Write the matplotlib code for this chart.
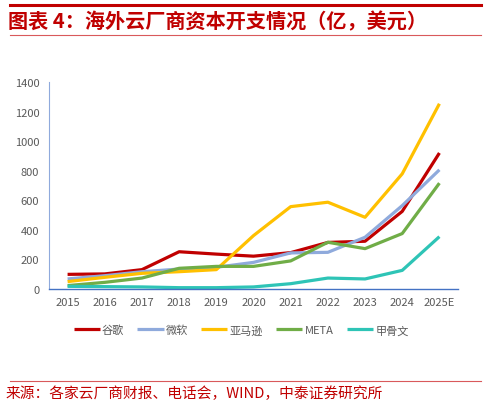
import matplotlib.pyplot as plt
from matplotlib.lines import Line2D

plt.rcParams['font.family'] = ['Noto Sans CJK SC', 'DejaVu Sans']

years = ['2015', '2016', '2017', '2018', '2019', '2020', '2021', '2022', '2023', '2024', '2025E']
google = [99, 102, 131, 252, 236, 222, 246, 315, 323, 525, 920]
microsoft = [68, 90, 117, 135, 147, 180, 244, 248, 350, 564, 806]
amazon = [50, 79, 106, 117, 131, 361, 557, 587, 485, 779, 1253]
meta = [23, 45, 74, 140, 153, 153, 190, 316, 273, 375, 716]
oracle = [18, 16, 14, 9, 9, 14, 36, 74, 68, 126, 354]

series = [
    ('谷歌', google, '#C00000'),
    ('微软', microsoft, '#8FAADC'),
    ('亚马逊', amazon, '#FFC000'),
    ('META', meta, '#70AD47'),
    ('甲骨文', oracle, '#2EC4B6'),
]

fig = plt.figure(figsize=(4.88, 4.06), dpi=100)
red = '#C00000'

# header and footer rules
fig.add_artist(Line2D([0.02, 0.985], [1 - 6 / 406] * 2, color=red, lw=2.2))
fig.add_artist(Line2D([0.02, 0.985], [1 - 36 / 406] * 2, color='#D9595B', lw=0.8))
fig.add_artist(Line2D([0.02, 0.985], [1 - 382 / 406] * 2, color='#D9595B', lw=0.8))

fig.text(0.016, 1 - 22 / 406, '图表 4：海外云厂商资本开支情况（亿，美元）', color=red,
         fontsize=14.5, fontweight='bold', va='center', ha='left')
fig.text(0.012, 1 - 394 / 406, '来源：各家云厂商财报、电话会，WIND，中泰证券研究所', color=red,
         fontsize=10.6, va='center', ha='left')

ax = fig.add_axes([49 / 488, 1 - 290 / 406, (458 - 49) / 488, (290 - 83) / 406])
x = list(range(len(years)))
for name, vals, c in series:
    ax.plot(x, vals, color=c, lw=2.3, label=name, solid_capstyle='butt')

ax.set_xlim(-0.5, len(years) - 0.5)
ax.set_ylim(0, 1400)
ax.set_yticks(range(0, 1401, 200))
ax.set_xticks(x)
ax.set_xticklabels(years)
ax.tick_params(axis='both', length=0, labelsize=8, labelcolor='#595959')
ax.tick_params(axis='x', pad=6)
ax.tick_params(axis='y', pad=7)
for s in ['top', 'right']:
    ax.spines[s].set_visible(False)
ax.spines['left'].set_color('#8FAADC')
ax.spines['bottom'].set_color('#4472C4')
ax.spines['left'].set_linewidth(0.8)
ax.spines['bottom'].set_linewidth(1.0)

fig.legend(loc='center', bbox_to_anchor=(0.494, 1 - 331 / 406), ncol=5, frameon=False,
           fontsize=8, handlelength=2.35, handletextpad=0.2, columnspacing=1.2,
           labelcolor='#595959')

fig.savefig('out.png', dpi=100)
